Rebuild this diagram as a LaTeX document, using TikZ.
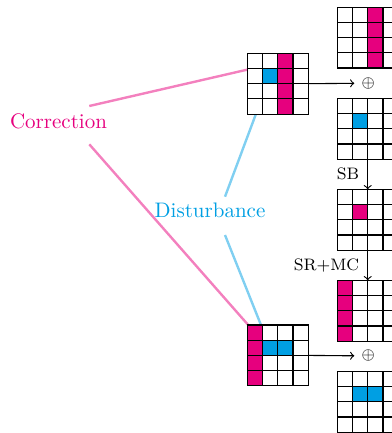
\documentclass[tikz,border=0pt]{standalone}
\usetikzlibrary{backgrounds}
\definecolor{mag}{RGB}{230,0,126}
\definecolor{cya}{RGB}{0,159,227}
\tikzset{
  cell/.style={draw=black,line width=0.6pt,fill=white,minimum size=7.6pt,inner sep=0pt,outer sep=0pt},
  conn/.style={line width=1.2pt},
  flow/.style={->,line width=0.55pt},
  lbl/.style={font=\fontsize{10.5}{12}\selectfont},
  oplbl/.style={font=\fontsize{8.5}{10}\selectfont,inner sep=3.5pt},
  oplabel/.style={font=\fontsize{8.3}{10}\selectfont,inner sep=4pt}
}
\newcommand\cellgrid[4]{%
  \foreach \r in {1,...,4}{\foreach \c in {1,...,4}{%
    \node[cell] (#1-\r-\c) at ({#2+(\c-0.5)*15.2},{#3+(\r-0.5)*15.2}) {};}}%
  \foreach \r/\c/\col in {#4}{%
    \node[cell,fill=\col] (#1-\r-\c) at ({#2+(\c-0.5)*15.2},{#3+(\r-0.5)*15.2}) {};}%
}
\begin{document}
\begin{tikzpicture}[x=0.5pt,y=-0.5pt]
\useasboundingbox (0,0) rectangle (391,433);
% grids
\cellgrid{A}{247.3}{53.3}{1/3/mag,2/3/mag,3/3/mag,4/3/mag,2/2/cya}
\cellgrid{B}{247.3}{325}{1/1/mag,2/1/mag,3/1/mag,4/1/mag,2/2/cya,2/3/cya}
\cellgrid{R1}{337.3}{7.3}{1/3/mag,2/3/mag,3/3/mag,4/3/mag}
\cellgrid{R2}{337.3}{98.3}{2/2/cya}
\cellgrid{R3}{337.3}{189.3}{2/2/mag}
\cellgrid{R4}{337.3}{280.3}{1/1/mag,2/1/mag,3/1/mag,4/1/mag}
\cellgrid{R5}{337.3}{371.3}{2/2/cya,2/3/cya}
% labels
\node[lbl,text=mag] (corr) at (58.5,121) {Correction};
\node[lbl,text=cya] (dist) at (210,210) {Disturbance};
\coordinate (c1) at (89.3,106);
\coordinate (c2) at (89.3,144.3);
\coordinate (d1) at (225,196.7);
\coordinate (d2) at (225,235);
% xor
\node[oplbl] (x1) at (368.3,83.3) {$\oplus$};
\node[oplbl] (x2) at (368.3,355.8) {$\oplus$};
\draw[flow] (A-2-4.south east) -- (x1.west);
\draw[flow] (B-2-4.south east) -- (x2.west);
% rounds
\draw[flow] (R2-4-2.south east) -- node[oplabel,left] {SB} (R3-1-2.north east);
\draw[flow] (R3-4-2.south east) -- node[oplabel,left] {SR+MC} (R4-1-2.north east);
% connectors
\begin{pgfonlayer}{background}
\draw[conn,mag!50] (c1) -- (A-1-3.center);
\draw[conn,mag!50] (c2) -- (B-1-1.center);
\draw[conn,cya!50] (d1) -- (A-2-2.center);
\draw[conn,cya!50] (d2) -- (B-2-2.center);
\end{pgfonlayer}
\end{tikzpicture}
\end{document}
